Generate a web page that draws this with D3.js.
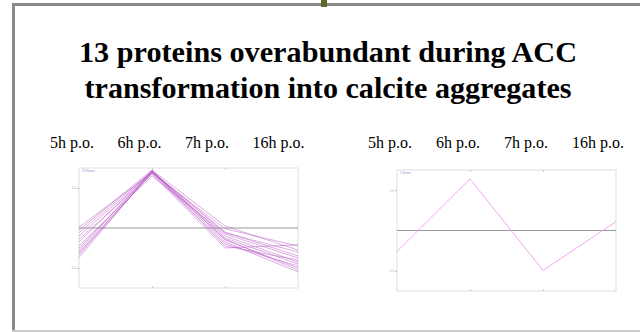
<!DOCTYPE html>
<html>
<head>
<meta charset="utf-8">
<script src="https://cdn.jsdelivr.net/npm/d3@7"></script>
<style>
  body { margin: 0; background: #fff; }
  svg { display: block; }
</style>
</head>
<body>
<div id="slide"></div>
<script>
const titleLines = ['13 proteins overabundant during ACC', 'transformation into calcite aggregates'];
const titleWidths = [498, 487];
const timepoints = ['5h p.o.', '6h p.o.', '7h p.o.', '16h p.o.'];

// 13 individual protein profiles (standardised abundance), one row per protein
const proteinProfiles = [
    [0.02, 1.38, -0.02, -0.45],
    [-0.05, 1.45, 0.05, -0.55],
    [-0.12, 1.42, -0.10, -0.70],
    [-0.20, 1.40, -0.20, -0.85],
    [-0.28, 1.35, -0.50, -0.42],
    [-0.35, 1.43, -0.30, -1.00],
    [-0.44, 1.30, -0.15, -0.75],
    [-0.50, 1.40, -0.35, -1.10],
    [-0.55, 1.44, -0.25, -0.90],
    [-0.60, 1.36, -0.40, -0.95],
    [-0.64, 1.41, -0.12, -0.60],
    [-0.68, 1.39, -0.28, -1.05],
    [-0.74, 1.42, -0.45, -0.80]
];
// cluster centre
const clusterProfile = [-0.52, 1.28, -0.99, 0.22];

const yTicks = [-1, 1];

const svg = d3.select('#slide').append('svg')
    .attr('width', 640)
    .attr('height', 332);

svg.append('rect').attr('width', 640).attr('height', 332).attr('fill', '#fff');

// slide frame
svg.append('line').attr('x1', 12).attr('x2', 640).attr('y1', 4.5).attr('y2', 4.5)
    .attr('stroke', '#8a8a8a').attr('stroke-width', 3);
svg.append('line').attr('x1', 13.5).attr('x2', 13.5).attr('y1', 3).attr('y2', 332)
    .attr('stroke', '#8a8a8a').attr('stroke-width', 3);
svg.append('line').attr('x1', 12).attr('x2', 640).attr('y1', 331).attr('y2', 331)
    .attr('stroke', '#cccccc').attr('stroke-width', 2);
svg.append('rect').attr('x', 321).attr('y', 0).attr('width', 6).attr('height', 7)
    .attr('fill', '#5b6b2c');

// title
svg.selectAll('.title')
    .data(titleLines)
    .join('text')
    .attr('class', 'title')
    .attr('x', (d, i) => 328 - titleWidths[i] / 2)
    .attr('y', (d, i) => 62 + i * 36)
    .attr('textLength', (d, i) => titleWidths[i])
    .attr('lengthAdjust', 'spacingAndGlyphs')
    .style('font-family', '"Liberation Serif", serif')
    .style('font-weight', 'bold')
    .style('font-size', '30px')
    .attr('fill', '#000')
    .text(d => d);

// time point headers
function headers(x0, step) {
    svg.append('g').selectAll('text')
        .data(timepoints)
        .join('text')
        .attr('x', (d, i) => x0 + i * step)
        .attr('y', 148)
        .style('font-family', '"Liberation Serif", serif')
        .style('font-size', '16px')
        .attr('fill', '#000')
        .text(d => d);
}
headers(50, 67.5);
headers(368, 68);

function profilePlot(left, top, width, height, series, color, opacity, legend) {
    const g = svg.append('g').attr('transform', `translate(${left},${top})`);

    const x = d3.scalePoint().domain(d3.range(timepoints.length)).range([0, width]);
    const y = d3.scaleLinear().domain([-1.5, 1.5]).range([height, 0]);

    g.append('rect')
        .attr('width', width).attr('height', height)
        .attr('fill', 'none').attr('stroke', '#dddddd').attr('stroke-width', 1);

    const inner = [1, 2];
    g.append('g').call(d3.axisTop(x).tickValues(inner).tickSize(-2).tickFormat(''))
        .call(a => a.select('.domain').remove())
        .selectAll('line').attr('stroke', '#ccc');
    g.append('g').attr('transform', `translate(0,${height})`)
        .call(d3.axisBottom(x).tickValues(inner).tickSize(-2).tickFormat(''))
        .call(a => a.select('.domain').remove())
        .selectAll('line').attr('stroke', '#ccc');
    g.append('g')
        .call(d3.axisLeft(y).tickValues(yTicks).tickSize(2).tickPadding(1))
        .call(a => a.select('.domain').remove())
        .call(a => a.selectAll('line').attr('stroke', '#bbb'))
        .call(a => a.selectAll('text').attr('fill', '#aaa').style('font-size', '3px'));

    g.append('line')
        .attr('x1', 0).attr('x2', width)
        .attr('y1', y(0)).attr('y2', y(0))
        .attr('stroke', '#999').attr('stroke-width', 1);

    const line = d3.line().x((d, i) => x(i)).y(d => y(d));
    g.selectAll('.profile')
        .data(series)
        .join('path')
        .attr('class', 'profile')
        .attr('d', line)
        .attr('fill', 'none')
        .attr('stroke', color)
        .attr('stroke-opacity', opacity)
        .attr('stroke-width', 1);

    g.append('text')
        .attr('x', 3).attr('y', 4)
        .style('font-family', 'sans-serif')
        .style('font-size', '3px')
        .attr('fill', '#8888cc')
        .text(legend);
}

profilePlot(79, 168, 219, 120, proteinProfiles, '#b44cc0', 0.45, '13 Series');
profilePlot(397, 170, 219, 121, [clusterProfile], '#f4a6f4', 1, '1 Series');
</script>
</body>
</html>
